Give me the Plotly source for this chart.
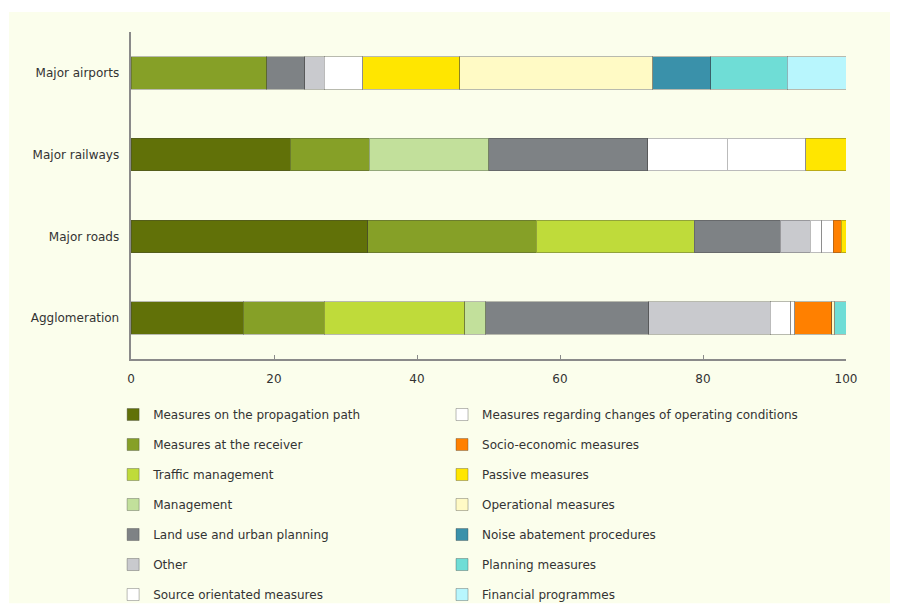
import plotly.graph_objects as go

# Categories from bottom to top
categories = ["Agglomeration", "Major roads", "Major railways", "Major airports"]

# Share of measures (%), order: Agglomeration, Major roads, Major railways, Major airports
measures = [
    "Measures on the propagation path",
    "Measures at the receiver",
    "Traffic management",
    "Management",
    "Land use and urban planning",
    "Other",
    "Source orientated measures",
    "Measures regarding changes of operating conditions",
    "Socio-economic measures",
    "Passive measures",
    "Operational measures",
    "Noise abatement procedures",
    "Planning measures",
    "Financial programmes",
]
propagation_path = [15.7, 33.1, 22.3, None]
at_receiver = [11.3, 23.6, 11.0, 19.0]
traffic_management = [19.7, 22.1, None, None]
management = [2.9, None, 16.7, None]
land_use = [22.8, 12.0, 22.3, 5.3]
other = [17.0, 4.2, None, 2.7]
source_orientated = [2.9, 1.6, 11.1, 5.4]
operating_conditions = [0.5, 1.6, 11.0, None]
socio_economic = [5.2, 1.1, None, None]
passive = [None, 0.7, 5.6, 13.6]
operational = [0.4, None, None, 27.0]
noise_abatement = [None, None, None, 8.1]
planning = [1.6, None, None, 10.7]
financial = [None, None, None, 8.2]

series = [propagation_path, at_receiver, traffic_management, management, land_use,
          other, source_orientated, operating_conditions, socio_economic, passive,
          operational, noise_abatement, planning, financial]

colors = ["#617108", "#86A027", "#BFDB3A", "#C2E09B", "#7E8285", "#C9CACE", "#FFFFFF",
          "#FFFFFF", "#FF8000", "#FFE600", "#FFFAC5", "#3A91AA", "#6FDDD6", "#B8F6FD"]

font_family = "Verdana, DejaVu Sans, sans-serif"

fig = go.Figure()
for i, (name, vals, col) in enumerate(zip(measures, series, colors)):
    fig.add_trace(go.Bar(
        y=categories,
        x=vals,
        name=name,
        orientation="h",
        width=0.4,
        marker=dict(color=col, line=dict(color="rgba(60,60,60,0.35)", width=1)),
        legend="legend" if i < 7 else "legend2",
        legendgroup=name,
    ))

# cream background panel
fig.add_shape(type="rect", xref="paper", yref="paper",
              x0=-0.1706, x1=1.0615, y0=-0.747, y1=1.061,
              fillcolor="#FBFEEC", line=dict(width=0), layer="below")

legend_style = dict(
    orientation="v", yanchor="top", xanchor="left",
    bgcolor="rgba(0,0,0,0)", tracegroupgap=11,
    font=dict(family=font_family, size=12, color="#333333"),
    traceorder="grouped",
)

# page body has an 8px margin, so the figure is shifted accordingly
fig.update_layout(
    barmode="stack",
    width=901, height=612,
    margin=dict(l=123, r=63, t=24, b=260),
    paper_bgcolor="white",
    plot_bgcolor="#FBFEEC",
    font=dict(family=font_family, size=12, color="#333333"),
    bargap=0.6,
    xaxis=dict(range=[0, 100], tickvals=[0, 20, 40, 60, 80, 100], showgrid=False,
               zeroline=False, showline=True, linecolor="#8a8a8a", linewidth=1.5,
               ticks="inside", ticklen=4, tickcolor="#8a8a8a", ticklabelstandoff=8,
               fixedrange=True),
    yaxis=dict(showgrid=False, zeroline=False, showline=True, linecolor="#8a8a8a",
               linewidth=1.5, ticks="", ticksuffix="  ", fixedrange=True),
    legend=dict(x=-0.025, y=-0.122, **legend_style),
    legend2=dict(x=0.435, y=-0.122, **legend_style),
)

fig.write_html("out.html")
